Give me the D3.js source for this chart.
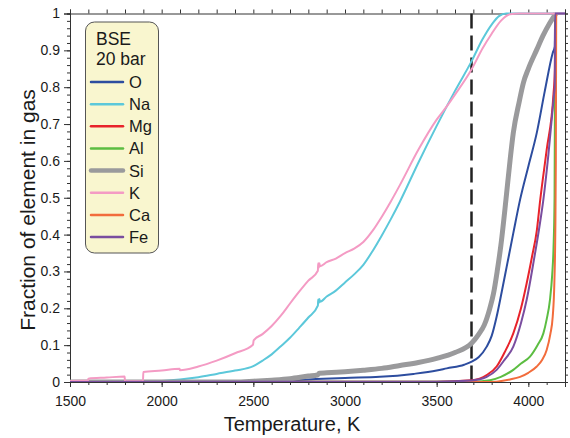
<!DOCTYPE html>
<html>
<head>
<meta charset="utf-8">
<script src="https://cdn.jsdelivr.net/npm/d3@7"></script>
<style>
  body { margin: 0; background: #fff; }
  svg { font-family: "Liberation Sans", Arial, sans-serif; }
</style>
</head>
<body>
<svg id="chart" width="570" height="438"></svg>
<script>
// element fractions in gas vs temperature, [T (K), fraction]
const O  = [[1500,0],[2400,0.001],[2600,0.003],[2800,0.007],[3000,0.011],[3190,0.014],[3373,0.022],[3500,0.031],[3555,0.037],[3650,0.047],[3691,0.055],[3730,0.068],[3773,0.096],[3800,0.125],[3827,0.177],[3855,0.245],[3882,0.313],[3918,0.404],[3955,0.495],[4000,0.585],[4046,0.676],[4090,0.79],[4133,0.893],[4144,0.91],[4146,1]];
const Na = [[1500,0],[1900,0.001],[2000,0.003],[2100,0.007],[2200,0.013],[2300,0.022],[2400,0.031],[2500,0.043],[2550,0.058],[2600,0.075],[2650,0.097],[2700,0.12],[2750,0.147],[2800,0.175],[2852,0.207],[2854,0.224],[2857,0.214],[2860,0.225],[2864,0.218],[2900,0.232],[2950,0.248],[3000,0.27],[3050,0.292],[3100,0.318],[3150,0.355],[3200,0.397],[3250,0.442],[3300,0.49],[3400,0.595],[3500,0.695],[3555,0.748],[3600,0.79],[3690,0.87],[3750,0.93],[3800,0.97],[3840,0.993],[3880,1],[4200,1]];
const Mg = [[1500,0],[3500,0.001],[3691,0.005],[3773,0.019],[3827,0.042],[3870,0.08],[3918,0.132],[3960,0.2],[3991,0.268],[4020,0.34],[4046,0.41],[4065,0.495],[4100,0.63],[4137,0.78],[4145,0.85],[4147,1]];
const Al = [[1500,0],[3700,0.001],[3791,0.005],[3850,0.014],[3918,0.033],[3960,0.05],[4009,0.069],[4050,0.1],[4082,0.132],[4100,0.17],[4118,0.223],[4130,0.29],[4137,0.359],[4143,0.5],[4147,1]];
const Si = [[1500,0],[2400,0],[2500,0.002],[2600,0.005],[2700,0.009],[2800,0.016],[2850,0.019],[2860,0.024],[2900,0.025],[3000,0.028],[3100,0.032],[3200,0.037],[3300,0.045],[3400,0.053],[3500,0.064],[3600,0.08],[3690,0.105],[3730,0.13],[3760,0.155],[3790,0.2],[3810,0.24],[3830,0.3],[3850,0.37],[3878,0.495],[3900,0.6],[3918,0.676],[3950,0.76],[3973,0.812],[4000,0.85],[4046,0.902],[4080,0.94],[4118,0.975],[4150,1]];
const K  = [[1500,0.003],[1598,0.004],[1600,0.009],[1700,0.012],[1798,0.015],[1800,0.002],[1898,0.002],[1900,0.027],[2000,0.031],[2098,0.036],[2100,0.032],[2200,0.042],[2300,0.058],[2400,0.078],[2498,0.101],[2502,0.113],[2550,0.13],[2600,0.152],[2650,0.18],[2700,0.213],[2750,0.245],[2800,0.275],[2852,0.302],[2854,0.322],[2857,0.31],[2860,0.322],[2864,0.314],[2900,0.325],[2950,0.335],[3000,0.35],[3050,0.362],[3100,0.38],[3150,0.41],[3200,0.448],[3250,0.49],[3300,0.535],[3400,0.63],[3500,0.712],[3555,0.748],[3600,0.78],[3690,0.848],[3750,0.905],[3800,0.945],[3850,0.98],[3900,0.998],[3950,1],[4200,1]];
const Ca = [[1500,0],[3800,0],[3827,0.001],[3900,0.007],[3955,0.014],[4000,0.025],[4046,0.042],[4075,0.06],[4100,0.087],[4120,0.13],[4133,0.177],[4142,0.27],[4147,0.4],[4150,0.6],[4152,1]];
const Fe = [[1500,0],[3500,0.001],[3691,0.004],[3773,0.014],[3827,0.033],[3870,0.06],[3918,0.096],[3960,0.16],[3991,0.223],[4030,0.33],[4060,0.42],[4082,0.495],[4110,0.62],[4140,0.78],[4144,0.8],[4146,1],[4200,1]];

const names  = ["O","Na","Mg","Al","Si","K","Ca","Fe"];
const series = [O, Na, Mg, Al, Si, K, Ca, Fe];
const colors = ["#2d4d9f","#5cc8da","#e8232b","#5cbd42","#9a9a9c","#f49bc4","#f26c3c","#7a4d9f"];
const widths = [2, 2, 2, 2, 5, 2, 2, 2];

const xTicks = [1500,2000,2500,3000,3500,4000];
const yTicks = [0,0.1,0.2,0.3,0.4,0.5,0.6,0.7,0.8,0.9,1];
const dashT = 3690;
const legendTitle = ["BSE","20 bar"];

const svg = d3.select("#chart");
const mLeft = 70, mRight = 565, mTop = 13.5, mBottom = 382;

const x = d3.scaleLinear().domain([1500,4200]).range([mLeft,mRight]);
const y = d3.scaleLinear().domain([0,1]).range([mBottom,mTop]);

const axisCol = "#333";

// clip
svg.append("defs").append("clipPath").attr("id","clip")
  .append("rect").attr("x",mLeft).attr("y",mTop-3).attr("width",mRight-mLeft).attr("height",mBottom-mTop+3);

// axes
const xMinor = d3.range(1500,4201,100);
const yMinor = d3.range(0,1.0001,0.02);

function addAxis(axis, tr) {
  const g = svg.append("g").attr("transform",tr).call(axis);
  g.select(".domain").attr("stroke",axisCol);
  g.selectAll(".tick line").attr("stroke",axisCol);
  return g;
}

addAxis(d3.axisBottom(x).tickValues(xMinor).tickSize(3).tickFormat(""), `translate(0,${mBottom})`);
const gx = addAxis(d3.axisBottom(x).tickValues(xTicks).tickSize(5).tickPadding(9).tickFormat(d3.format("d")), `translate(0,${mBottom})`);
gx.selectAll("text").attr("font-size",14).attr("fill","#1a1a1a");

addAxis(d3.axisLeft(y).tickValues(yMinor).tickSize(3).tickFormat(""), `translate(${mLeft},0)`);
const gy = addAxis(d3.axisLeft(y).tickValues(yTicks).tickSize(6).tickPadding(4).tickFormat(d => d === 0 || d === 1 ? d : d3.format(".1f")(d)), `translate(${mLeft},0)`);
gy.selectAll("text").attr("font-size",14).attr("fill","#1a1a1a");

addAxis(d3.axisTop(x).tickValues(xMinor).tickSize(4).tickFormat(""), `translate(0,${mTop})`);
addAxis(d3.axisRight(y).tickValues(yMinor).tickSize(3).tickFormat(""), `translate(${mRight},0)`);

// dashed line
svg.append("line")
  .attr("x1",x(dashT)).attr("x2",x(dashT))
  .attr("y1",y(1)).attr("y2",y(0))
  .attr("stroke","#222").attr("stroke-width",2.5)
  .attr("stroke-dasharray","15,7");

// curves
const line = d3.line()
  .x(d => x(d[0])).y(d => y(d[1]))
  .curve(d3.curveMonotoneX);

svg.append("g").attr("clip-path","url(#clip)")
  .selectAll("path").data(series).join("path")
  .attr("d", line)
  .attr("fill","none")
  .attr("stroke",(d,i) => colors[i])
  .attr("stroke-width",(d,i) => widths[i])
  .attr("stroke-linejoin","round");

// axis titles
svg.append("text")
  .attr("x",292).attr("y",431)
  .attr("text-anchor","middle").attr("font-size",20).attr("fill","#1a1a1a")
  .text("Temperature, K");

svg.append("text")
  .attr("transform","translate(35,210) rotate(-90)")
  .attr("text-anchor","middle").attr("font-size",21).attr("fill","#1a1a1a")
  .text("Fraction of element in gas");

// legend
const lg = svg.append("g");
lg.append("rect")
  .attr("x",85.5).attr("y",22).attr("width",73).attr("height",231)
  .attr("rx",9).attr("fill","#f9f6cf").attr("stroke","#555").attr("stroke-width",1);
lg.selectAll("text.title").data(legendTitle).join("text")
  .attr("class","title")
  .attr("x",96).attr("y",(d,i) => 45 + i*20)
  .attr("font-size",17.5).attr("fill","#1a1a1a")
  .text(d => d);
const items = lg.selectAll("g.item").data(names).join("g")
  .attr("class","item")
  .attr("transform",(d,i) => `translate(0,${82 + i*22.15})`);
items.append("line")
  .attr("x1",91).attr("x2",123).attr("y1",0).attr("y2",0)
  .attr("stroke",(d,i) => colors[i])
  .attr("stroke-width",(d,i) => widths[i] === 5 ? 4.5 : 2.5)
  .attr("stroke-linecap","round");
items.append("text")
  .attr("x",129).attr("y",6)
  .attr("font-size",16.5).attr("fill","#1a1a1a")
  .text(d => d);
</script>
</body>
</html>
